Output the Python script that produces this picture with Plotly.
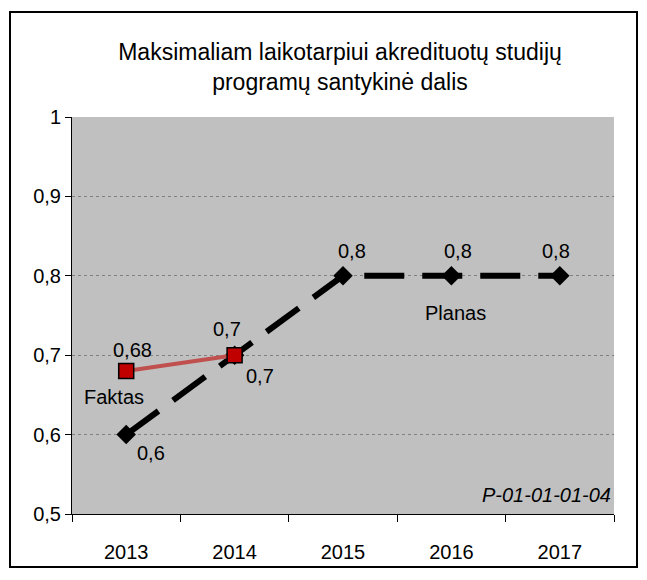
import plotly.graph_objects as go

years = ['2013', '2014', '2015', '2016', '2017']
faktas_years = ['2013', '2014']
faktas = [0.68, 0.7]
planas = [0.6, 0.7, 0.8, 0.8, 0.8]
y_ticks = [0.5, 0.6, 0.7, 0.8, 0.9, 1.0]
y_tick_labels = ['0,5', '0,6', '0,7', '0,8', '0,9', '1']

W, H = 647, 580
L, R, T, B = 72, 33, 117, 66
pw, ph = W - L - R, H - T - B


def fmt(v):
    return ('%g' % v).replace('.', ',')


fig = go.Figure()

fig.add_trace(go.Scatter(
    x=years, y=planas, mode='lines+markers', name='Planas',
    line=dict(color='black', width=6, dash='40px,18px'),
    marker=dict(symbol='diamond', size=15, color='black'),
))
fig.add_trace(go.Scatter(
    x=faktas_years, y=faktas, mode='lines+markers', name='Faktas',
    line=dict(color='#C0504D', width=4),
    marker=dict(symbol='square', size=15, color='#C00000',
                line=dict(color='black', width=1.5)),
))

font = dict(family='Liberation Sans, Arial', size=20, color='black')

# data labels (category index used for x, numeric-looking names would be misread)
for i, v in enumerate(planas):
    if v < 0.8:
        fig.add_annotation(x=i, y=v, text=fmt(v), showarrow=False, font=font,
                           xanchor='left', yanchor='top', xshift=9,
                           yshift=-5 if i == 0 else -8)
    else:
        fig.add_annotation(x=i, y=v, text=fmt(v), showarrow=False, font=font,
                           xanchor='center', yanchor='bottom',
                           xshift=[0, 0, 9, 7, -4][i], yshift=12)
for i, v in enumerate(faktas):
    fig.add_annotation(x=i, y=v, text=fmt(v), showarrow=False, font=font,
                       xanchor='center', yanchor='bottom',
                       xshift=6 if i == 0 else -8, yshift=8 if i == 0 else 13)

fig.add_annotation(x=0, y=faktas[0], text='Faktas', showarrow=False, font=font,
                   xanchor='center', yanchor='top', xshift=-12, yshift=-13)
fig.add_annotation(x=3, y=planas[3], text='Planas', showarrow=False, font=font,
                   xanchor='center', yanchor='top', xshift=4, yshift=-24)
fig.add_annotation(x=1, y=0, xref='paper', yref='paper', text='<i>P-01-01-01-04</i>',
                   showarrow=False, font=font, xanchor='right', yanchor='bottom',
                   xshift=-1, yshift=6)

# outer chart border
fig.add_shape(type='rect', xref='paper', yref='paper',
              x0=(10 - L) / pw, x1=(637 - L) / pw,
              y0=(H - B - 567) / ph, y1=(H - B - 12) / ph,
              line=dict(color='black', width=2), layer='below')

fig.update_layout(
    width=W, height=H,
    margin=dict(l=L, r=R, t=T, b=B),
    paper_bgcolor='white', plot_bgcolor='#C0C0C0',
    showlegend=False,
    font=font,
    title=dict(text='Maksimaliam laikotarpiui akredituotų studijų<br>programų santykinė dalis',
               x=(340 - L) / pw, xref='paper', xanchor='center',
               y=1 - 60 / H, yanchor='top',
               font=dict(family='Liberation Sans, Arial', size=23, color='black')),
)
fig.update_xaxes(
    type='category', showgrid=False, showline=True, linecolor='black', linewidth=1,
    ticks='outside', ticklen=7, tickcolor='black', tickson='boundaries',
    ticklabelstandoff=20, range=[-0.5, 4.5], tickfont=font,
)
fig.update_yaxes(
    range=[0.5, 1.0], tickvals=y_ticks, ticktext=y_tick_labels,
    showgrid=True, gridcolor='#808080', griddash='dot', gridwidth=1,
    showline=True, linecolor='black', linewidth=1,
    ticks='outside', ticklen=6, tickcolor='black', zeroline=False, tickfont=font,
)

fig.write_html('out.html', config={'displayModeBar': False},
               post_script="document.body.style.margin='0';")
